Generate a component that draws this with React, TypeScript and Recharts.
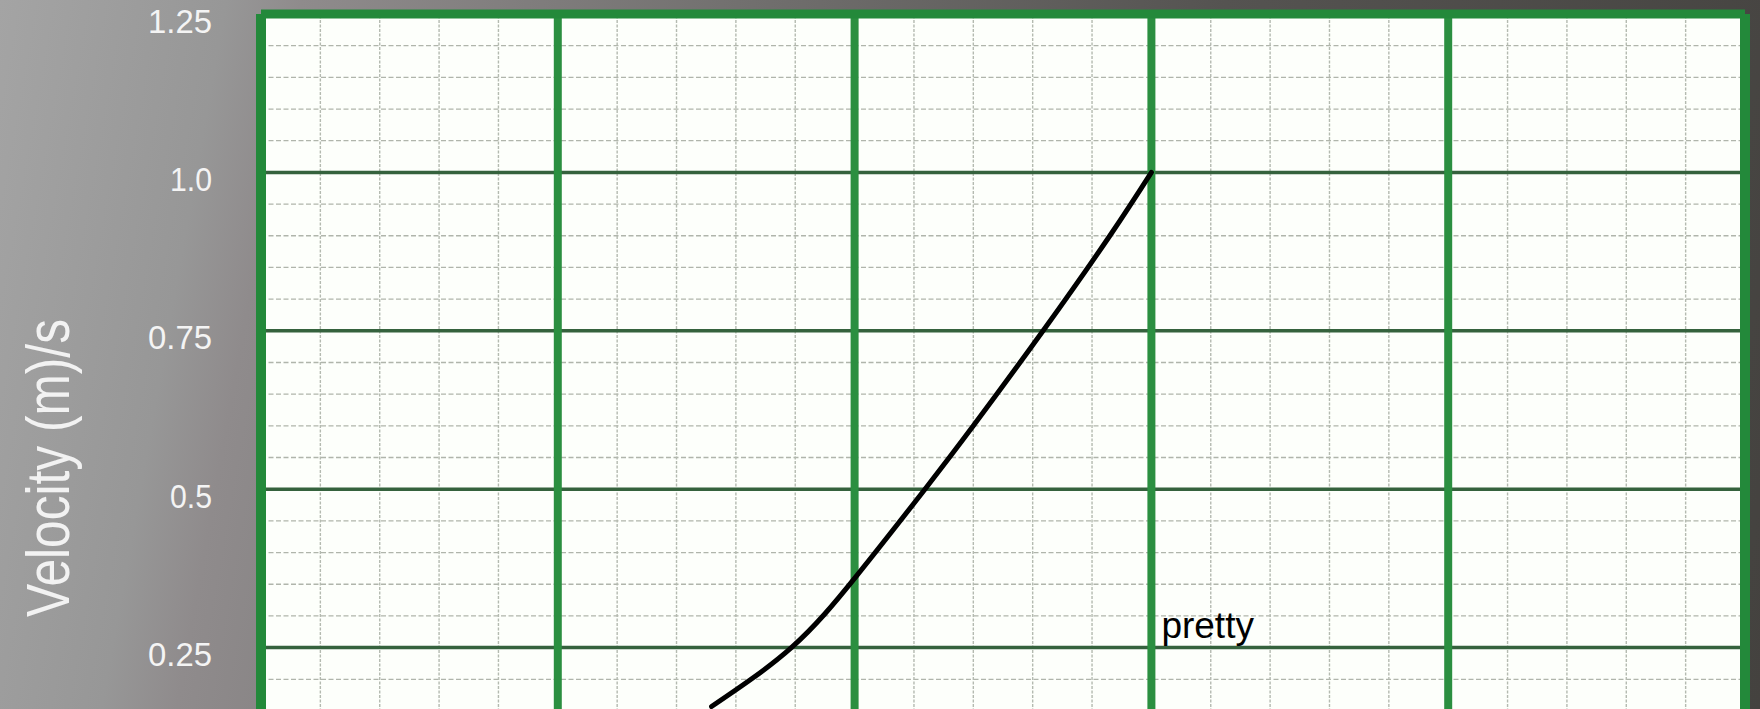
import React from 'react';
import {
  LineChart,
  Line,
  XAxis,
  YAxis,
  CartesianGrid,
  ReferenceLine,
  ReferenceDot,
} from 'recharts';

// Velocity curve samples (time in s, velocity in m/s)
const timeS = [1.518, 1.787, 2.008, 2.237, 2.4, 2.635, 2.86, 3.0];
const velocity = [0.157, 0.25, 0.364, 0.5, 0.6, 0.75, 0.9, 1.0];

// Axis ticks
const yTickValues = [0.25, 0.5, 0.75, 1.0, 1.25];
const yTickLabels = ['0.25', '0.5', '0.75', '1.0', '1.25'];
const yTitle = 'Velocity (m)/s';

// Graph-paper rulings
const majorTimes = [1, 2, 3, 4];
const minorTimes = [0.2, 0.4, 0.6, 0.8, 1.2, 1.4, 1.6, 1.8, 2.2, 2.4, 2.6, 2.8, 3.2, 3.4, 3.6, 3.8, 4.2, 4.4, 4.6, 4.8];
const majorVelocities = [0.25, 0.5, 0.75, 1.0];
const minorVelocities = [0.05, 0.1, 0.15, 0.2, 0.3, 0.35, 0.4, 0.45, 0.55, 0.6, 0.65, 0.7, 0.8, 0.85, 0.9, 0.95, 1.05, 1.1, 1.15, 1.2];

// Annotation
const noteText = 'pretty';
const noteTime = 3;
const noteVelocity = 0.25;

const data = timeS.map((t, i) => ({ t, v: velocity[i] }));

const FONT = '"Liberation Sans", Arial, Helvetica, sans-serif';
const BORDER = '#23893a';
const MAJOR_V = '#2b8f40';
const MAJOR_H = '#35623d';
const MINOR_H = '#b0b5ab';
const MINOR_V = '#b4bab0';

const YTick = (props: any) => {
  const { x, y, payload } = props;
  const idx = yTickValues.indexOf(payload.value);
  return (
    <text
      x={x}
      y={y}
      dy={7}
      textAnchor="end"
      dominantBaseline="central"
      fill="#f4f4f4"
      fontFamily={FONT}
      fontSize={33}
      textLength={idx >= 0 && yTickLabels[idx].length === 3 ? 42 : 64}
      lengthAdjust="spacingAndGlyphs"
    >
      {idx >= 0 ? yTickLabels[idx] : String(payload.value)}
    </text>
  );
};

const renderTitle = (props: any) => {
  const vb = props.viewBox || { x: 0 };
  const cx = vb.x + 37;
  const cy = 468;
  return (
    <text
      x={cx}
      y={cy}
      transform={`rotate(-90 ${cx} ${cy})`}
      textAnchor="middle"
      dominantBaseline="central"
      fill="#f2f2f2"
      fontFamily={FONT}
      fontSize={61}
      textLength={298}
      lengthAdjust="spacingAndGlyphs"
    >
      {yTitle}
    </text>
  );
};

const renderNote = (props: any) => {
  const vb = props.viewBox || { x: 0, y: 0, width: 0, height: 0 };
  const cx = vb.x + vb.width / 2;
  const cy = vb.y + vb.height / 2;
  return (
    <text x={cx + 10} y={cy - 10} fill="#000" fontFamily={FONT} fontSize={37}>
      {noteText}
    </text>
  );
};

export default function App() {
  return (
    <div
      style={{
        position: 'absolute',
        left: 0,
        top: 0,
        width: 1760,
        height: 709,
        overflow: 'hidden',
        background:
          'linear-gradient(100deg, #a4a4a4 0%, #979797 12%, #8f8b8c 16%, #716f6e 40%, #555351 65%, #44423f 100%)',
      }}
    >
      <LineChart
        width={1760}
        height={806}
        data={data}
        margin={{ top: 14, right: 15, bottom: 0, left: 11 }}
      >
        <CartesianGrid fill="#fdfffb" stroke="none" horizontal={false} vertical={false} />
        <XAxis dataKey="t" type="number" domain={[0, 5]} hide />
        <YAxis
          type="number"
          domain={[0, 1.25]}
          ticks={yTickValues}
          width={250}
          axisLine={false}
          tickLine={false}
          tickSize={0}
          tickMargin={49}
          tick={<YTick />}
          interval={0}
          label={{ content: renderTitle }}
        />

        {minorVelocities.map((v) => (
          <ReferenceLine key={`mh${v}`} y={v} stroke={MINOR_H} strokeWidth={1.3} strokeDasharray="5 2.5" />
        ))}
        {minorTimes.map((t) => (
          <ReferenceLine key={`mv${t}`} x={t} stroke={MINOR_V} strokeWidth={1.4} strokeDasharray="3 1.5" />
        ))}
        {majorVelocities.map((v) => (
          <ReferenceLine key={`Mh${v}`} y={v} stroke={MAJOR_H} strokeWidth={3.5} />
        ))}
        {majorTimes.map((t) => (
          <ReferenceLine key={`Mv${t}`} x={t} stroke={MAJOR_V} strokeWidth={8} />
        ))}

        <ReferenceLine y={1.25} stroke={BORDER} strokeWidth={9} />
        <ReferenceLine x={0} stroke={BORDER} strokeWidth={10} />
        <ReferenceLine x={5} stroke={BORDER} strokeWidth={10} />

        <Line
          type="natural"
          dataKey="v"
          stroke="#000"
          strokeWidth={5}
          strokeLinecap="round"
          dot={false}
          activeDot={false}
          isAnimationActive={false}
        />

        <ReferenceDot
          x={noteTime}
          y={noteVelocity}
          r={1}
          fill="none"
          stroke="none"
          label={{ content: renderNote }}
        />
      </LineChart>
    </div>
  );
}
